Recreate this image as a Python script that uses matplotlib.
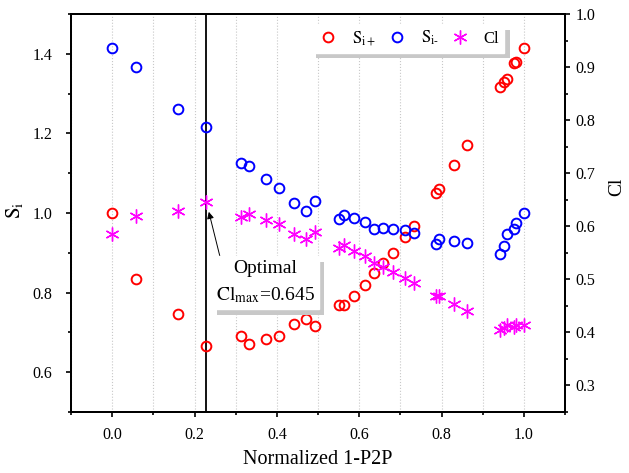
import numpy as np
import matplotlib
matplotlib.use("Agg")
import matplotlib.pyplot as plt
from matplotlib.ticker import MultipleLocator
import matplotlib.patheffects as pe

plt.rcParams['font.family'] = ['Liberation Serif', 'DejaVu Serif']
plt.rcParams['mathtext.fontset'] = 'stix'

# data
x = [0.0, 0.057, 0.160, 0.229, 0.314, 0.333, 0.374, 0.405, 0.441, 0.470,
     0.493, 0.550, 0.562, 0.588, 0.614, 0.637, 0.659, 0.683, 0.711, 0.732,
     0.786, 0.795, 0.831, 0.863, 0.943, 0.951, 0.958, 0.976, 0.980, 1.0]
si_plus = [1.000, 0.833, 0.745, 0.667, 0.690, 0.671, 0.683, 0.692, 0.722, 0.734,
           0.715, 0.769, 0.769, 0.792, 0.820, 0.849, 0.874, 0.900, 0.939, 0.968,
           1.050, 1.060, 1.121, 1.172, 1.317, 1.328, 1.337, 1.376, 1.379, 1.415]
si_minus = [1.414, 1.368, 1.262, 1.215, 1.125, 1.119, 1.085, 1.062, 1.026, 1.006,
            1.030, 0.984, 0.995, 0.987, 0.977, 0.960, 0.963, 0.959, 0.957, 0.950,
            0.922, 0.934, 0.930, 0.925, 0.898, 0.917, 0.948, 0.959, 0.974, 1.000]
cl = [0.586, 0.620, 0.628, 0.645, 0.617, 0.623, 0.612, 0.604, 0.586, 0.576,
      0.589, 0.559, 0.564, 0.553, 0.544, 0.531, 0.523, 0.514, 0.503, 0.494,
      0.468, 0.468, 0.453, 0.441, 0.405, 0.408, 0.413, 0.411, 0.413, 0.413]

labels = [r'$\mathrm{S_{i+}}$', r'$\mathrm{S_{i\text{-}}}$', 'Cl']

i_opt = int(np.argmax(cl))
x_opt = x[i_opt]
cl_max = cl[i_opt]

fig = plt.figure(figsize=(6.29, 4.73), dpi=100)
ax = fig.add_axes([0.1129, 0.129, 0.7854, 0.8414])
ax2 = ax.twinx()

h1, = ax.plot(x, si_plus, 'o', ls='none', mfc='none', mec='#ff0000', ms=7, mew=1.4)
h2, = ax.plot(x, si_minus, 'o', ls='none', mfc='none', mec='#0000ff', ms=7, mew=1.4)
h3, = ax2.plot(x, cl, ls='none', marker=(6, 2, 0), color='#ff00ff', ms=10, mew=1.0)

ax.axvline(x_opt, color='k', lw=1.3, zorder=1)

ax.set_xlim(-0.1, 1.1)
ax.set_ylim(0.5, 1.5)
ax2.set_ylim(0.25, 1.0)

ax.xaxis.set_major_locator(MultipleLocator(0.2))
ax.xaxis.set_minor_locator(MultipleLocator(0.1))
ax.yaxis.set_major_locator(MultipleLocator(0.2))
ax.yaxis.set_minor_locator(MultipleLocator(0.1))
ax2.yaxis.set_major_locator(MultipleLocator(0.1))
ax2.yaxis.set_minor_locator(MultipleLocator(0.05))

ax.grid(True, axis='x', which='both', ls=':', color='#c8c8c8', lw=0.8)
ax.set_axisbelow(True)

for a in (ax, ax2):
    for s in a.spines.values():
        s.set_linewidth(1.4)
    a.tick_params(which='both', direction='out', width=1.2, labelsize=11.5)
    a.tick_params(which='major', length=3.5)
    a.tick_params(which='minor', length=2.5)
ax.tick_params(top=False, right=False)
ax.tick_params(axis='y', which='major', pad=10)
ax.tick_params(axis='x', which='major', pad=7)
ax2.tick_params(axis='y', which='major', pad=4)

ax.set_xlabel('Normalized 1-P2P', fontsize=14.5)
ax.set_ylabel(r'$\mathrm{S_i}$', fontsize=15)
ax2.set_ylabel('Cl', fontsize=14)
ax.xaxis.set_label_coords(0.5, -0.095)
ax.yaxis.set_label_coords(-0.093, 0.507)
ax2.yaxis.set_label_coords(1.087, 0.565)

shadow = [pe.SimplePatchShadow(offset=(4, -4), shadow_rgbFace='#c8c8c8', alpha=1.0), pe.Normal()]

leg = ax2.legend([h1, h2, h3], labels, ncol=3, loc='upper right',
                 bbox_to_anchor=(0.877, 0.975), borderaxespad=0, fontsize=12,
                 handlelength=1.6, handletextpad=0.6, columnspacing=0.5,
                 fancybox=False, framealpha=1, edgecolor='white', borderpad=0.3)
leg.get_frame().set_path_effects(shadow)

t = ax2.annotate('Optimal\n' + r'$\mathrm{Cl_{max}}$=0.645', xy=(x_opt, cl_max),
                 xytext=(0.372, 0.494), textcoords='data', ha='center', va='center',
                 fontsize=14, linespacing=1.5,
                 bbox=dict(boxstyle='square,pad=0.2', fc='white', ec='white'),
                 arrowprops=dict(arrowstyle='-|>', color='k', lw=0.7, mutation_scale=10,
                                 relpos=(0.05, 1.0), shrinkA=0, shrinkB=7))
t.get_bbox_patch().set_path_effects(shadow)

fig.savefig('out.png', dpi=100)
